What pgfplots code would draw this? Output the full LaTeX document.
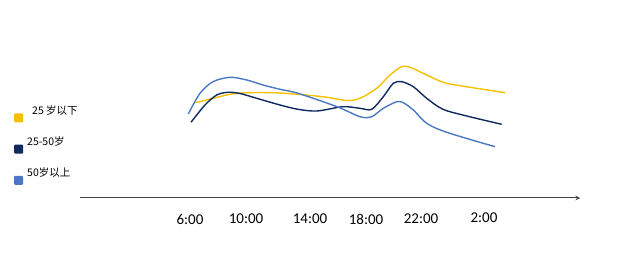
\documentclass[border=0pt]{standalone}
\usepackage{pgfplots}
\pgfplotsset{compat=1.18}
\usepackage{fontspec}
\setmainfont{Carlito}
\newfontfamily\cjk{Noto Sans CJK SC}
\definecolor{cyel}{HTML}{F5C000}
\definecolor{cnavy}{HTML}{0E2A5E}
\definecolor{cblue}{HTML}{4A78C2}
\begin{document}
\begin{tikzpicture}[x=1pt,y=1pt]
\begin{axis}[
  scale only axis, width=640pt, height=265pt,
  xmin=0, xmax=640, ymin=0, ymax=265,
  axis line style={draw=none}, xtick=\empty, ytick=\empty,
  clip=false,
  legend style={at={(axis cs:14,162)}, anchor=north west, draw=none, fill=none,
    font=\cjk\fontsize{10.5}{12}\selectfont, row sep=12pt, inner sep=0pt},
  legend cell align=left,
  legend image code/.code={\fill[#1, rounded corners=1pt] (0pt,-12pt) rectangle (9pt,-3pt);},
]
\addplot[cyel, line width=1.4pt, smooth, tension=0.5, forget plot] coordinates {
(195.7,162.3) (213,166.7) (230,170.7) (246.7,172.3) (273,172.3) (298,170.7) (325,168) (347,164.5) (360,166.7) (376.7,176.7) (390,190) (401.7,198.3) (410,197.7) (426.7,190) (443,182.7) (460,179.3) (505,172.3)};
\addplot[cnavy, line width=1.4pt, smooth, tension=0.5, forget plot] coordinates {
(191,142.7) (205,160) (216.7,170) (228,172.7) (240,171.5) (256.7,166.7) (280,160) (298,155.7) (317,154) (343,158.3) (360,156.7) (371.7,155.7) (383.3,168.3) (393.3,181.7) (401.7,183.3) (413.3,178.3) (426.7,166.7) (443,155.7) (466.7,149) (501.7,140.7)};
\addplot[cblue, line width=1.4pt, smooth, tension=0.5, forget plot] coordinates {
(188.3,151) (200,171.7) (213,183.3) (230,187.7) (246.7,185) (263,180) (280,175.7) (298,171.7) (337,158.3) (360,148.3) (371.7,148.3) (383.3,156.7) (396.7,163.3) (403.3,162.3) (413.3,155) (426.7,141.7) (446.7,132.7) (495,118.3)};
\addplot[color={black!75}, line width=1pt, -stealth, forget plot] coordinates {(80,67) (580,67)};
\addlegendimage{fill=cyel, draw=none}
\addlegendentry{\hspace{7pt}25 岁以下}
\addlegendimage{fill=cnavy, draw=none}
\addlegendentry{\hspace{2pt}25-50岁}
\addlegendimage{fill=cblue, draw=none}
\addlegendentry{\hspace{2pt}50岁以上}
\node[font=\fontsize{15}{17}\selectfont] at (axis cs:190,46) {6:00};
\node[font=\fontsize{15}{17}\selectfont] at (axis cs:246,46) {10:00};
\node[font=\fontsize{15}{17}\selectfont] at (axis cs:310,46) {14:00};
\node[font=\fontsize{15}{17}\selectfont] at (axis cs:366,46) {18:00};
\node[font=\fontsize{15}{17}\selectfont] at (axis cs:421,46) {22:00};
\node[font=\fontsize{15}{17}\selectfont] at (axis cs:484,47) {2:00};
\end{axis}
\end{tikzpicture}
\end{document}
